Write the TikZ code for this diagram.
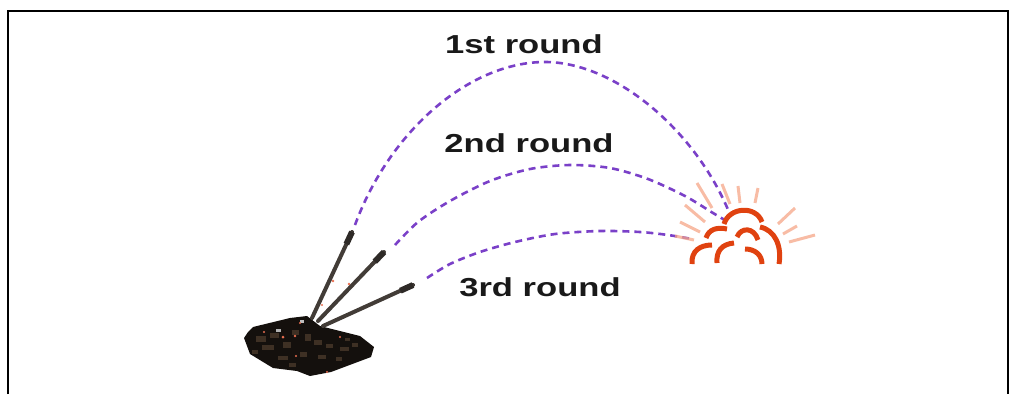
\documentclass[tikz,border=0pt]{standalone}
\usepackage{fontspec}
\setmainfont{Liberation Sans}
\usetikzlibrary{calc}
\definecolor{shot}{RGB}{122,64,200}
\definecolor{blast}{RGB}{224,66,16}
\definecolor{glow}{RGB}{245,165,135}
\definecolor{hull}{RGB}{20,16,13}
\definecolor{rust}{RGB}{80,62,46}
\definecolor{barrel}{RGB}{66,60,55}
\definecolor{spark}{RGB}{232,110,80}
\tikzset{
  trajectory/.style={draw=shot, line width=2.6pt, dash pattern=on 7pt off 5pt},
  roundlabel/.style={font=\bfseries\fontsize{26}{30}\selectfont, text=black!90, inner sep=0pt},
  gun/.style={draw=barrel, line width=4pt, line cap=round},
  muzzle/.style={draw=barrel!70!black, line width=6pt},
  flash/.style={draw=blast, line width=5pt},
  ray/.style={draw=glow, line width=3pt, opacity=0.75},
  mottle/.style={fill=rust, opacity=0.7},
}
\newcommand{\wide}[1]{\scalebox{1.33}[1]{#1}}
\begin{document}
\begin{tikzpicture}[x=1pt,y=-1pt]
\useasboundingbox (0,0) rectangle (1018,394);
% frame, open at the bottom
\draw[line width=2pt] (8,394) -- (8,11) -- (1008,11) -- (1008,394);

% named points: gun muzzles and the target
\coordinate (g1) at (352,232);
\coordinate (g2) at (384,252);
\coordinate (g3) at (413,285);
\coordinate (b1) at (312,318);
\coordinate (b2) at (318,321);
\coordinate (b3) at (323,326);
\coordinate (hit) at (742,232);

% tank hull
\fill[hull] (248,332) -- (253,327) -- (290,318) -- (307,316) -- (320,326) -- (360,336)
  -- (374,347) -- (371,357) -- (331,372) -- (310,376) -- (297,371) -- (273,368)
  -- (250,354) -- (244,338) -- cycle;
% mottled camouflage
\foreach \x/\y/\w/\h in {256/336/10/6, 270/333/9/5, 262/345/12/5, 283/342/8/6, 292/330/7/5,
    305/334/6/7, 314/340/8/5, 326/344/7/4, 340/347/9/4, 352/343/6/4, 278/356/10/4,
    300/352/7/5, 318/355/8/4, 336/357/6/4, 252/350/6/4, 289/363/7/4, 345/338/5/3}
  \fill[mottle] (\x,\y) rectangle ++(\w,\h);
\fill[gray!60] (276,329) rectangle ++(5,3);
\fill[gray!50] (300,320) rectangle ++(4,3);

% gun barrels
\draw[gun] (b1) -- (g1);
\draw[gun] (b2) -- (g2);
\draw[gun] (b3) -- (g3);
\draw[muzzle] ($(b1)!0.86!(g1)$) -- (g1);
\draw[muzzle] ($(b2)!0.86!(g2)$) -- (g2);
\draw[muzzle] ($(b3)!0.86!(g3)$) -- (g3);
\fill[spark] (333,281) circle (1.3) (349,284) circle (1.3) (322,305) circle (1.2)
  (283,337) circle (1.5) (295,336) circle (1.3) (300,323) circle (1.2)
  (340,337) circle (1.2) (296,356) circle (1.2) (327,372) circle (1.2) (264,332) circle (1.2);

% trajectories
\draw[trajectory] (355,225) .. controls (390,130) and (470,62) .. (545,62)
  .. controls (615,62) and (695,130) .. (729,212);
\draw[trajectory] plot[smooth] coordinates {(395,245) (418,222) (450,201) (490,181) (530,169) (570,165) (610,168) (648,179) (685,196) (713,213) (728,222)};
\draw[trajectory] plot[smooth] coordinates {(427,278) (450,264) (480,252) (515,242) (555,234) (600,231) (640,232) (668,235) (692,239)};

% explosion glow rays
\draw[ray] (697,183) -- (712,208);
\draw[ray] (685,205) -- (705,222);
\draw[ray] (680,222) -- (700,232);
\draw[ray] (675,236) -- (694,240);
\draw[ray] (722,184) -- (730,204);
\draw[ray] (738,186) -- (740,203);
\draw[ray] (758,188) -- (755,203);
\draw[ray] (795,208) -- (778,224);
\draw[ray] (797,226) -- (783,234);
\draw[ray] (815,235) -- (789,242);

% explosion flash
\draw[flash] (724,224) .. controls (729,207) and (756,205) .. (762,222);
\draw[flash] (760,227) .. controls (775,230) and (782,246) .. (779,264);
\draw[flash] (737,237) .. controls (741,227) and (754,227) .. (758,240);
\draw[flash] (745,249) .. controls (755,249) and (762,255) .. (762,264);
\draw[flash] (706,238) .. controls (709,229) and (717,227) .. (727,229);
\draw[flash] (692,264) .. controls (691,251) and (700,245) .. (712,245);
\draw[flash] (717,263) .. controls (716,251) and (722,244) .. (734,243);

% labels
\node[roundlabel] (r1) at (524,44) {\wide{1st round}};
\node[roundlabel] (r2) at (529,143) {\wide{2nd round}};
\node[roundlabel] (r3) at (540,287) {\wide{3rd round}};
\end{tikzpicture}
\end{document}
